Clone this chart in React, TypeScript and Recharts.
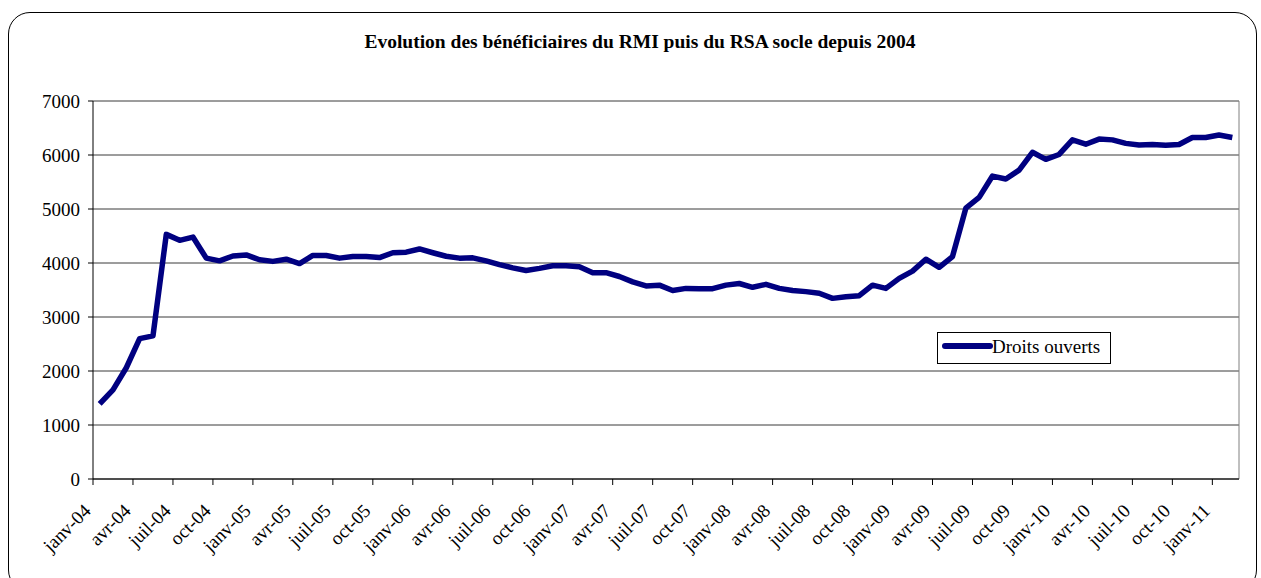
import React from "react"
import {
  CartesianGrid,
  Legend,
  Line,
  LineChart,
  ReferenceLine,
  XAxis,
  YAxis,
} from "recharts"

// one label every 3 months, janv-04 .. janv-11
const tickLabels = [
  "janv-04", "avr-04", "juil-04", "oct-04",
  "janv-05", "avr-05", "juil-05", "oct-05",
  "janv-06", "avr-06", "juil-06", "oct-06",
  "janv-07", "avr-07", "juil-07", "oct-07",
  "janv-08", "avr-08", "juil-08", "oct-08",
  "janv-09", "avr-09", "juil-09", "oct-09",
  "janv-10", "avr-10", "juil-10", "oct-10",
  "janv-11",
]

// monthly values, janv-04 .. févr-11
const droitsOuverts = [
  1390, 1650, 2060, 2600, 2650, 4530, 4420, 4480, 4090, 4040, 4130, 4150,
  4060, 4030, 4070, 3990, 4140, 4140, 4090, 4120, 4120, 4100, 4190, 4200,
  4260, 4190, 4125, 4090, 4095, 4040, 3970, 3910, 3860, 3900, 3950, 3950,
  3930, 3820, 3820, 3750, 3650, 3575, 3590, 3490, 3530, 3525, 3525, 3590,
  3620, 3550, 3605, 3530, 3490, 3470, 3440, 3345, 3375, 3395, 3590, 3530,
  3715, 3850, 4070, 3920, 4120, 5015, 5215, 5610, 5555, 5720, 6050, 5920,
  6010, 6280, 6200, 6295, 6280, 6215, 6185, 6195, 6180, 6195, 6325, 6325,
  6370, 6325,
]

const yTicks = [0, 1000, 2000, 3000, 4000, 5000, 6000, 7000]

const data = droitsOuverts.map((v, i) => ({ x: i + 0.5, value: v }))
const xTicks = tickLabels.map((_, i) => i * 3)

const FONT = "'Liberation Serif', 'Times New Roman', serif"

function MonthTick(props: any) {
  const { x, y, payload } = props
  const label = tickLabels[Math.round(payload.value / 3)]
  const ax = x - 1
  const ay = y + 25
  return (
    <text
      x={ax}
      y={ay}
      transform={`rotate(-45 ${ax} ${ay})`}
      textAnchor="end"
      fontSize={19}
      fontFamily={FONT}
      fill="#000"
    >
      {label}
    </text>
  )
}

function LegendBox() {
  return (
    <div
      style={{
        width: 172,
        height: 30,
        border: "1px solid #000",
        background: "#fff",
        position: "relative",
        fontFamily: FONT,
        fontSize: 19,
      }}
    >
      <svg width={60} height={30} style={{ position: "absolute", left: 0, top: 0 }}>
        <line x1={7} y1={13} x2={52} y2={13} stroke="#000080" strokeWidth={6} strokeLinecap="round" />
      </svg>
      <span style={{ position: "absolute", left: 54, top: 3, lineHeight: "22px", whiteSpace: "nowrap" }}>
        Droits ouverts
      </span>
    </div>
  )
}

export default function App() {
  return (
    <div style={{ position: "absolute", left: 0, top: 0, width: 1261, height: 578, overflow: "hidden", background: "#fff" }}>
      <div
        style={{
          position: "absolute",
          left: 8,
          top: 12,
          width: 1249,
          height: 580,
          border: "1.5px solid #000",
          borderRadius: 22,
          boxSizing: "border-box",
        }}
      />
      <div
        style={{
          position: "absolute",
          left: 0,
          top: 31,
          width: 1280,
          textAlign: "center",
          fontFamily: FONT,
          fontWeight: "bold",
          fontSize: 19.5,
          lineHeight: "22px",
        }}
      >
        Evolution des bénéficiaires du RMI puis du RSA socle depuis 2004
      </div>
      <LineChart
        width={1261}
        height={578}
        data={data}
        margin={{ top: 101, right: 22, bottom: 0, left: 0 }}
        style={{ position: "absolute", left: 0, top: 0 }}
      >
        <CartesianGrid vertical={false} stroke="#3a3a3a" strokeWidth={1} />
        <XAxis
          dataKey="x"
          type="number"
          domain={[0, 86]}
          ticks={xTicks}
          interval={0}
          height={99}
          tick={<MonthTick />}
          tickSize={6}
          tickLine={{ stroke: "#000" }}
          axisLine={{ stroke: "#000" }}
          allowDataOverflow
        />
        <YAxis
          type="number"
          domain={[0, 7000]}
          ticks={yTicks}
          interval={0}
          width={93}
          tickSize={5}
          tickMargin={8}
          tickLine={{ stroke: "#000" }}
          axisLine={{ stroke: "#000" }}
          tick={{ fill: "#000", fontSize: 19, fontFamily: FONT }}
        />
        <ReferenceLine x={86} stroke="#808080" strokeWidth={1} />
        <Legend
          layout="horizontal"
          verticalAlign="middle"
          align="center"
          content={<LegendBox />}
          wrapperStyle={{ position: "absolute", left: 937, top: 332, width: 174, height: 32, bottom: "auto" }}
        />
        <Line
          type="linear"
          dataKey="value"
          name="Droits ouverts"
          stroke="#000080"
          strokeWidth={5.5}
          strokeLinejoin="round"
          dot={false}
          activeDot={false}
          isAnimationActive={false}
        />
      </LineChart>
    </div>
  )
}
